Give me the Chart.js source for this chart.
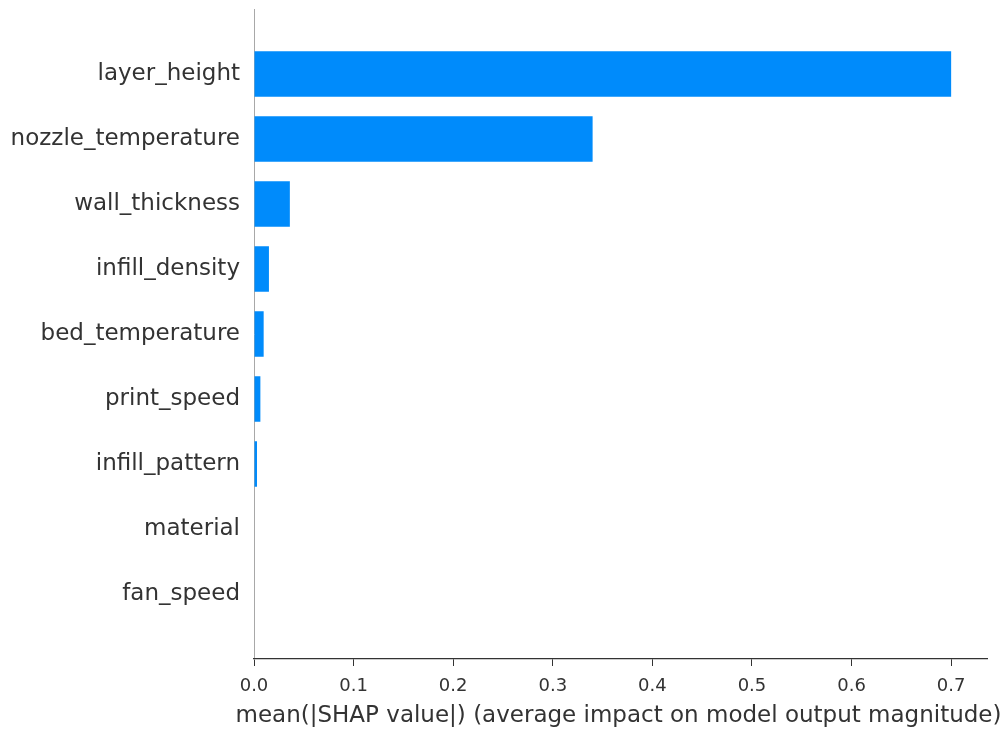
<!DOCTYPE html>
<html>
<head>
<meta charset="utf-8">
<script src="https://cdn.jsdelivr.net/npm/chart.js@4/dist/chart.umd.min.js"></script>
<style>
  html, body { margin: 0; padding: 0; background: #ffffff; }
  #wrap { width: 1005px; height: 733px; position: relative; }
</style>
</head>
<body>
<div id="wrap"><canvas id="chart"></canvas></div>
<script>
// Feature names, most important first
const features = [
  'layer_height',
  'nozzle_temperature',
  'wall_thickness',
  'infill_density',
  'bed_temperature',
  'print_speed',
  'infill_pattern',
  'material',
  'fan_speed'
];

// mean(|SHAP value|) for each feature
const meanAbsShap = [0.700, 0.340, 0.036, 0.015, 0.0097, 0.0064, 0.003, 0, 0];

// x-axis tick values
const xTicks = [0.0, 0.1, 0.2, 0.3, 0.4, 0.5, 0.6, 0.7];

const xTitle = 'mean(|SHAP value|) (average impact on model output magnitude)';

const FONT = 'DejaVu Sans';
const TEXT = '#333333';

const points = features.map((f, i) => ({ x: meanAbsShap[i], y: i }));

// Axis title drawn at its natural width, centred under the plot area
const xTitlePlugin = {
  id: 'xTitle',
  afterDraw(chart) {
    const { ctx, chartArea } = chart;
    ctx.save();
    ctx.font = `23px "${FONT}"`;
    ctx.fillStyle = TEXT;
    ctx.textAlign = 'center';
    ctx.textBaseline = 'middle';
    ctx.fillText(xTitle, (chartArea.left + chartArea.right) / 2 - 2, chartArea.bottom + 57);
    ctx.restore();
  }
};

new Chart(document.getElementById('chart'), {
  type: 'bar',
  data: {
    datasets: [{
      data: points,
      backgroundColor: '#008bfb',
      borderWidth: 0,
      barPercentage: 0.7,
      categoryPercentage: 1.0
    }]
  },
  plugins: [xTitlePlugin],
  options: {
    indexAxis: 'y',
    responsive: true,
    maintainAspectRatio: false,
    animation: false,
    events: [],
    layout: { padding: { top: 9, right: 18, left: 0, bottom: 0 } },
    plugins: {
      legend: { display: false },
      tooltip: { enabled: false }
    },
    scales: {
      y: {
        type: 'linear',
        reverse: true,
        offset: false,
        min: -1,
        max: features.length,
        afterBuildTicks: (scale) => {
          scale.ticks = features.map((f, i) => ({ value: i }));
        },
        afterFit: (scale) => {
          scale.width = 254;
          scale.paddingTop = 0;
          scale.paddingBottom = 0;
        },
        grid: { display: false, drawTicks: false, offset: false },
        border: { display: true, color: '#a8a8a8', width: 1 },
        ticks: {
          autoSkip: false,
          padding: 14,
          color: TEXT,
          font: { family: FONT, size: 23 },
          callback: (v) => features[v] ?? ''
        }
      },
      x: {
        type: 'linear',
        min: 0,
        max: 0.736,
        afterBuildTicks: (scale) => {
          scale.ticks = xTicks.map(v => ({ value: v }));
        },
        afterFit: (scale) => { scale.height = 74; },
        grid: {
          drawOnChartArea: false,
          drawTicks: true,
          tickLength: 7,
          color: '#333333',
          lineWidth: 1
        },
        border: { display: true, color: '#333333', width: 1.3 },
        ticks: {
          padding: 10,
          color: TEXT,
          font: { family: FONT, size: 18 },
          callback: (v) => Number(v).toFixed(1)
        },
        title: { display: false }
      }
    }
  }
});
</script>
</body>
</html>
